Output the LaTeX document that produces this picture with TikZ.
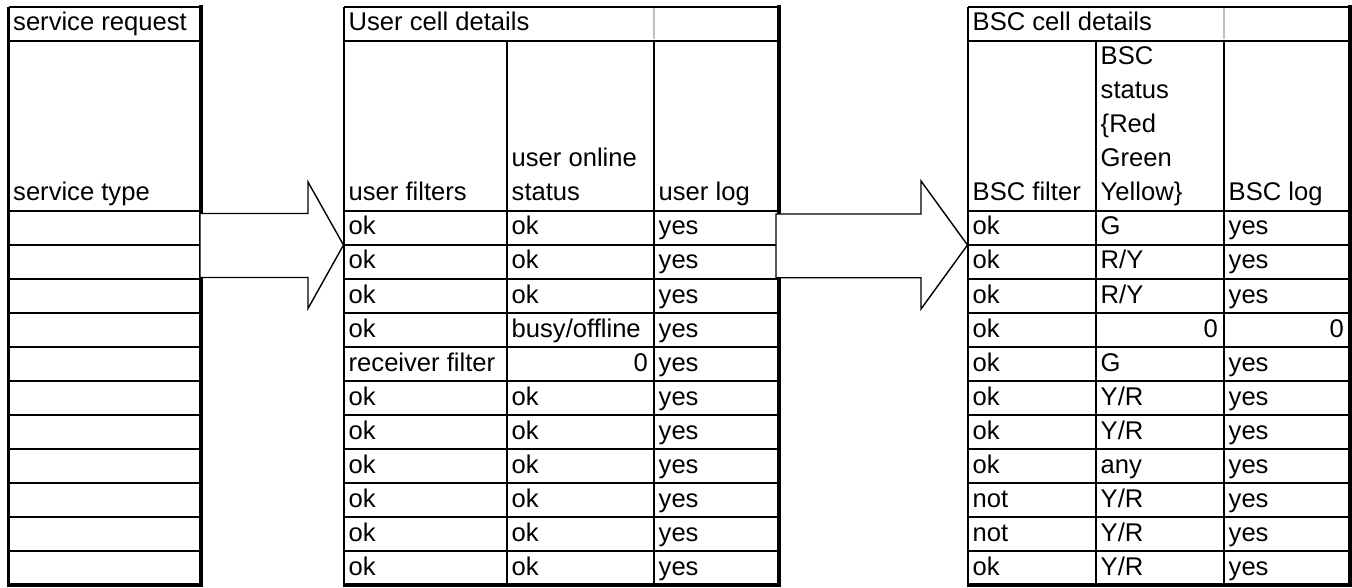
\documentclass[tikz,border=0pt]{standalone}
\usepackage{fontspec}
\setmainfont{Liberation Sans}
\newcommand\cellfont{\fontsize{25.6}{34}\selectfont}
\tikzset{
  thinrule/.style={line width=1.9pt},
  midrule/.style={line width=2.6pt},
  thickrule/.style={line width=3.4pt},
  gridrule/.style={line width=1.5pt, draw=black!25},
  celltext/.style={anchor=base west, inner sep=0pt, font=\cellfont},
  numtext/.style={anchor=base east, inner sep=0pt, font=\cellfont},
  blockarrow/.style={draw, fill=white, line width=1.4pt, line join=miter},
}
% left-aligned and right-aligned cell text, given the cell's left/right edge and bottom
\newcommand\lcell[4]{\node[celltext] (#1) at ({#2+4.5},{#3-10}) {#4};}
\newcommand\rcell[4]{\node[numtext] (#1) at ({#2-6},{#3-10}) {#4};}

\begin{document}
\begin{tikzpicture}[x=1pt,y=-1pt]
\useasboundingbox (0,0) rectangle (1352,588);

% ---------- service request ----------
\draw[midrule] (8.5,7) -- (201,7);
\draw[midrule] (8.5,7) -- (8.5,585);
\draw[midrule] (8.5,41) -- (201,41);
\foreach \i in {0,...,10} {\draw[thinrule] (8.5,{211+34*\i}) -- (201,{211+34*\i});}
\draw[thickrule] (201,5.5) -- (201,586.5);
\draw[thickrule] (7,585) -- (202.7,585);
\lcell{sr-head}{8.5}{41}{service request}
\lcell{sr-type}{8.5}{211}{service type}

% ---------- user cell details ----------
\draw[midrule] (344,7) -- (779,7);
\draw[midrule] (344,7) -- (344,585);
\draw[midrule] (344,41) -- (779,41);
\draw[gridrule] (654,8.5) -- (654,39.5);
\draw[midrule] (507,41) -- (507,585);
\draw[midrule] (654,41) -- (654,585);
\foreach \i in {0,...,10} {\draw[thinrule] (344,{211+34*\i}) -- (779,{211+34*\i});}
\draw[thickrule] (779,5.5) -- (779,586.5);
\draw[thickrule] (342.5,585) -- (780.7,585);
\lcell{uc-head}{344}{41}{User cell details}
\lcell{uc-filt}{344}{211}{user filters}
\lcell{uc-stat1}{507}{177}{user online}
\lcell{uc-stat2}{507}{211}{status}
\lcell{uc-log}{654}{211}{user log}
\foreach \v [count=\i] in {ok,ok,ok,ok,receiver filter,ok,ok,ok,ok,ok,ok}
  {\lcell{uf-\i}{344}{211+34*\i}{\v}}
\foreach \v [count=\i] in {ok,ok,ok,busy/offline}
  {\lcell{us-\i}{507}{211+34*\i}{\v}}
\rcell{us-5}{654}{381}{0}
\foreach \v [count=\i from 6] in {ok,ok,ok,ok,ok,ok}
  {\lcell{us-\i}{507}{211+34*\i}{\v}}
\foreach \i in {1,...,11}
  {\lcell{ul-\i}{654}{211+34*\i}{yes}}

% ---------- BSC cell details ----------
\draw[midrule] (968,7) -- (1350,7);
\draw[midrule] (968,7) -- (968,585);
\draw[midrule] (968,41) -- (1350,41);
\draw[gridrule] (1224,8.5) -- (1224,39.5);
\draw[midrule] (1096,41) -- (1096,585);
\draw[midrule] (1224,41) -- (1224,585);
\foreach \i in {0,...,10} {\draw[thinrule] (968,{211+34*\i}) -- (1350,{211+34*\i});}
\draw[thickrule] (1350,5.5) -- (1350,586.5);
\draw[thickrule] (966.5,585) -- (1351.7,585);
\lcell{bc-head}{968}{41}{BSC cell details}
\lcell{bc-filt}{968}{211}{BSC filter}
\foreach \v [count=\i] in {BSC,status,\{Red,Green,Yellow\}}
  {\lcell{bc-stat\i}{1096}{41+34*\i}{\v}}
\lcell{bc-log}{1224}{211}{BSC log}
\foreach \v [count=\i] in {ok,ok,ok,ok,ok,ok,ok,ok,not,not,ok}
  {\lcell{bf-\i}{968}{211+34*\i}{\v}}
\foreach \v [count=\i] in {G,R/Y,R/Y}
  {\lcell{bs-\i}{1096}{211+34*\i}{\v}}
\rcell{bs-4}{1224}{347}{0}
\foreach \v [count=\i from 5] in {G,Y/R,Y/R,any,Y/R,Y/R,Y/R}
  {\lcell{bs-\i}{1096}{211+34*\i}{\v}}
\foreach \i in {1,2,3,5,6,7,8,9,10,11}
  {\lcell{bl-\i}{1224}{211+34*\i}{yes}}
\rcell{bl-4}{1350}{347}{0}

% ---------- block arrows between the tables ----------
\draw[blockarrow] (200,213.5) -- (308,213.5) -- (308,182) -- (343.5,245)
  -- (308,308.5) -- (308,277.5) -- (200,277.5) -- cycle;
\draw[blockarrow] (776,214) -- (921,214) -- (921,181) -- (967.5,245)
  -- (921,309) -- (921,277.7) -- (776,277.7) -- cycle;
\end{tikzpicture}
\end{document}
